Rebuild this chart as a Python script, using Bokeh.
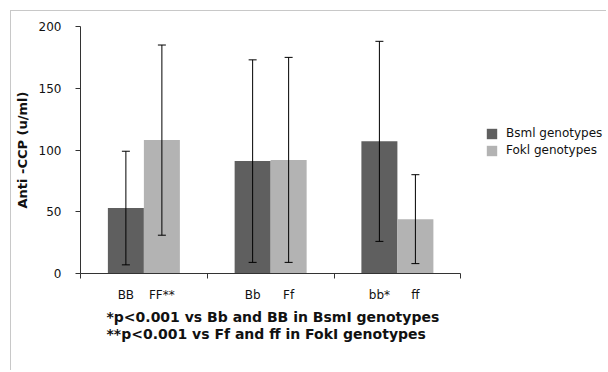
from bokeh.plotting import figure
from bokeh.models import (ColumnDataSource, Range1d, FixedTicker, Whisker, TeeHead,
                          Legend, LegendItem, Title)
from bokeh.embed import file_html
from bokeh.resources import INLINE

# ---- data ----
groups = ["BB / FF", "Bb / Ff", "bb / ff"]
bsm_labels = ["BB", "Bb", "bb*"]
fok_labels = ["FF**", "Ff", "ff"]
bsm_mean = [53, 91, 107]
bsm_sd = [46, 82, 81]
fok_mean = [108, 92, 44]
fok_sd = [77, 83, 36]
y_ticks = [0, 50, 100, 150, 200]
series_names = ["Bsml genotypes", "Fokl genotypes"]
footnotes = ["*p<0.001 vs Bb and BB in BsmI genotypes",
             "**p<0.001 vs Ff and ff in FokI genotypes"]

DARK = "#5f5f5f"
LIGHT = "#b3b3b3"
FONT = "DejaVu Sans"

# ---- layout (pixels) ----
W, H = 596, 360
BL, BR, BT, BB = 68, 2, 15, 98
AXIS_W = 381            # pixel length of the category axis
FRAME_W = W - BL - BR

n = len(groups)
off = 0.142
bw = 0.284
bsm_x = [i + 0.5 - off for i in range(n)]
fok_x = [i + 0.5 + off for i in range(n)]

bsm_src = ColumnDataSource(dict(
    x=bsm_x, top=bsm_mean,
    upper=[m + s for m, s in zip(bsm_mean, bsm_sd)],
    lower=[m - s for m, s in zip(bsm_mean, bsm_sd)]))
fok_src = ColumnDataSource(dict(
    x=fok_x, top=fok_mean,
    upper=[m + s for m, s in zip(fok_mean, fok_sd)],
    lower=[m - s for m, s in zip(fok_mean, fok_sd)]))

p = figure(width=W, height=H, output_backend="svg", toolbar_location=None,
           x_range=Range1d(0, n * FRAME_W / AXIS_W), y_range=Range1d(0, 200),
           min_border_left=BL, min_border_right=BR, min_border_top=BT,
           min_border_bottom=BB)
p.margin = (11, 0, 0, 11)
p.styles = {"box-shadow": "-1px -1px 0 0 #c8c8c8"}
p.outline_line_color = None
p.xgrid.visible = False
p.ygrid.visible = False
p.background_fill_color = "white"
p.border_fill_color = "white"

r1 = p.vbar(x="x", top="top", bottom=0, width=bw, source=bsm_src,
            fill_color=DARK, line_color=None)
r2 = p.vbar(x="x", top="top", bottom=0, width=bw, source=fok_src,
            fill_color=LIGHT, line_color=None)

for src in (bsm_src, fok_src):
    w = Whisker(source=src, base="x", upper="upper", lower="lower",
                line_color="black", line_width=1, level="annotation",
                upper_head=TeeHead(size=8, line_color="black", line_width=1),
                lower_head=TeeHead(size=8, line_color="black", line_width=1))
    p.add_layout(w)

# x axis
xa = p.xaxis[0]
xa.bounds = (0, n)
xa.ticker = FixedTicker(ticks=bsm_x + fok_x, minor_ticks=list(range(n + 1)))
xa.major_label_overrides = {**{x: l for x, l in zip(bsm_x, bsm_labels)},
                            **{x: l for x, l in zip(fok_x, fok_labels)}}
xa.major_tick_out = 0
xa.major_tick_in = 0
xa.minor_tick_out = 5
xa.minor_tick_in = 0
xa.minor_tick_line_color = "#333333"
xa.axis_line_color = "#333333"
xa.major_label_text_font = FONT
xa.major_label_text_font_size = "12px"
xa.major_label_text_color = "#111111"
xa.major_label_standoff = 9

# y axis
ya = p.yaxis[0]
ya.ticker = FixedTicker(ticks=y_ticks)
ya.minor_tick_line_color = None
ya.major_tick_out = 5
ya.major_tick_in = 0
ya.major_tick_line_color = "#333333"
ya.axis_line_color = "#333333"
ya.major_label_text_font = FONT
ya.major_label_text_font_size = "12px"
ya.major_label_text_color = "#111111"
ya.major_label_standoff = 14
ya.axis_label = "Anti -CCP (u/ml)"
ya.axis_label_text_font = FONT
ya.axis_label_text_font_size = "13px"
ya.axis_label_text_font_style = "bold"
ya.axis_label_text_color = "#111111"
ya.axis_label_standoff = 6

legend = Legend(items=[LegendItem(label=series_names[0], renderers=[r1]),
                       LegendItem(label=series_names[1], renderers=[r2])],
                location=(405, 116), orientation="vertical",
                glyph_width=13, glyph_height=13, label_height=13,
                label_standoff=8, spacing=3, padding=0, margin=0,
                border_line_color=None, background_fill_alpha=0,
                label_text_font=FONT, label_text_font_size="12px",
                label_text_color="#111111")
p.add_layout(legend)

t = Title(text="\n".join(footnotes), align="left", offset=26, standoff=4,
          text_font=FONT, text_font_size="14px", text_font_style="bold",
          text_color="#111111", text_line_height=1.12)
p.add_layout(t, "below")

open("out.html", "w").write(file_html(p, INLINE))
